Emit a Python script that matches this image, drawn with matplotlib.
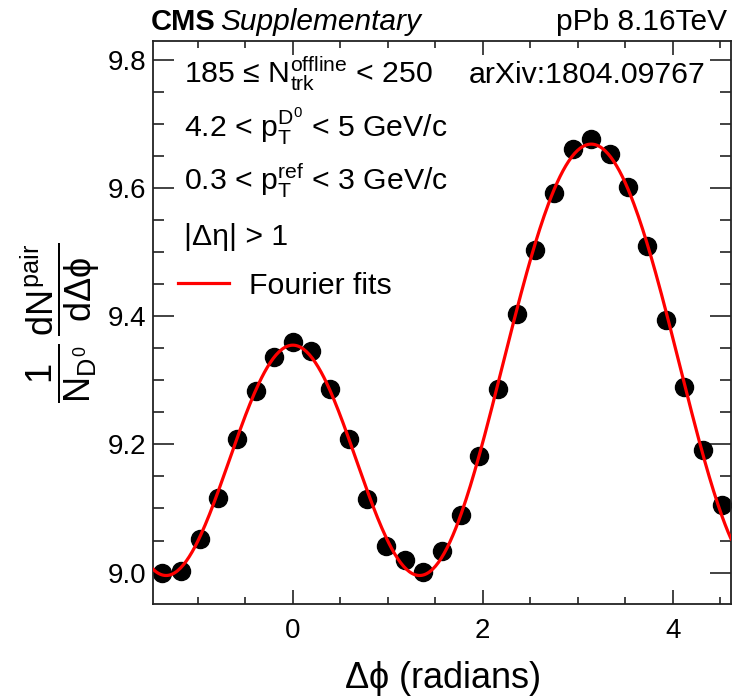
import matplotlib
matplotlib.use('Agg')
import matplotlib.pyplot as plt
from matplotlib.ticker import MultipleLocator, FormatStrFormatter
import numpy as np

#------------------------------------------------------------------------------#

plt.rc('font', family=['Liberation Sans', 'DejaVu Sans'])
plt.rc('mathtext', fontset='custom', rm='Liberation Sans', it='Liberation Sans',
       bf='Liberation Sans:bold', sf='Liberation Sans', fallback='stixsans')

# bin centres in delta phi (radians), pi/16 wide bins
dphi = [-1.3744, -1.1781, -0.9817, -0.7854, -0.5890, -0.3927, -0.1963, 0.0,
        0.1963, 0.3927, 0.5890, 0.7854, 0.9817, 1.1781, 1.3744, 1.5708,
        1.7671, 1.9635, 2.1598, 2.3562, 2.5525, 2.7489, 2.9452, 3.1416,
        3.3379, 3.5343, 3.7306, 3.9270, 4.1233, 4.3197, 4.5160]

# per-trigger associated yield
yields = [9.000, 9.003, 9.052, 9.116, 9.208, 9.283, 9.336, 9.360,
          9.346, 9.286, 9.208, 9.115, 9.042, 9.020, 9.001, 9.034,
          9.090, 9.182, 9.286, 9.403, 9.503, 9.592, 9.661, 9.676,
          9.653, 9.601, 9.510, 9.394, 9.290, 9.191, 9.105]

bin_width = np.pi / 16
n_harm = 3

#------------------------------------------------------------------------------#

def fourier_fit(x, y, n):
    x = np.asarray(x)
    cols = [np.ones_like(x)] + [np.cos(k * x) for k in range(1, n + 1)]
    coef, *_ = np.linalg.lstsq(np.column_stack(cols), np.asarray(y), rcond=None)
    return coef

def fourier_eval(coef, x):
    return coef[0] + sum(c * np.cos((k + 1) * x) for k, c in enumerate(coef[1:]))

#------------------------------------------------------------------------------#

W, H = 737, 698
fig = plt.figure(figsize=(W / 100, H / 100), dpi=100)
ax = fig.add_axes([153 / W, 1 - 604 / H, (731 - 153) / W, (604 - 41) / H])

x_lo = dphi[0] - bin_width / 2
x_hi = dphi[-1] + bin_width / 2

coef = fourier_fit(dphi, yields, n_harm)
xf = np.linspace(x_lo, x_hi, 400)
fit_line, = ax.plot(xf, fourier_eval(coef, xf), color='#ff0000', lw=2.3,
                    label='Fourier fits', zorder=3)
ax.plot(dphi, yields, 'o', color='black', ms=13, zorder=2)

ax.set_xlim(x_lo, x_hi)
ax.set_ylim(8.951, 9.829)

ax.xaxis.set_major_locator(MultipleLocator(2))
ax.xaxis.set_minor_locator(MultipleLocator(0.5))
ax.yaxis.set_major_locator(MultipleLocator(0.2))
ax.yaxis.set_minor_locator(MultipleLocator(0.05))
ax.yaxis.set_major_formatter(FormatStrFormatter('%.1f'))

ax.tick_params(which='both', direction='in', top=True, right=True,
               width=1.2, color='#222222', labelsize=20)
ax.tick_params(axis='x', which='major', length=10, pad=10)
ax.tick_params(axis='x', which='minor', length=5)
ax.tick_params(axis='y', which='major', length=15, pad=5)
ax.tick_params(axis='y', which='minor', length=8)
for sp in ax.spines.values():
    sp.set_linewidth(1.3)
    sp.set_color('#222222')

ax.set_xlabel(r'$\Delta\phi$ (radians)', fontsize=26)
ax.xaxis.set_label_coords(0.5, -0.098)
ax.set_ylabel(r'$\dfrac{1}{N_{D^{0}}}\,\dfrac{dN^{pair}}{d\Delta\phi}$', fontsize=26)
ax.yaxis.set_label_coords(-0.088, 0.5)

def fx(x):
    return x / W

def fy(y):
    return 1 - y / H

fig.text(fx(151), fy(30), 'CMS', fontsize=21, fontweight='bold', va='baseline')
fig.text(fx(220), fy(30), 'Supplementary', fontsize=21.5, style='italic', va='baseline')
fig.text(fx(727), fy(30), 'pPb 8.16TeV', fontsize=21.5, ha='right', va='baseline')

ts = 21.8
fig.text(fx(184), fy(83), r'185 ≤ N$_{\rm trk}^{\rm offline}$ < 250', fontsize=ts, va='baseline')
fig.text(fx(705), fy(83), 'arXiv:1804.09767', fontsize=ts, ha='right', va='baseline')
fig.text(fx(184), fy(137), r'4.2 < p$_{\rm T}^{{\rm D}^{0}}$ < 5 GeV/c', fontsize=ts, va='baseline')
fig.text(fx(184), fy(190), r'0.3 < p$_{\rm T}^{\rm ref}$ < 3 GeV/c', fontsize=ts, va='baseline')
fig.text(fx(184), fy(245), '|Δη| > 1', fontsize=ts, va='baseline')

ax.legend(handles=[fit_line], loc='center left', frameon=False, fontsize=ts,
          bbox_to_anchor=(fx(178), fy(286)), bbox_transform=fig.transFigure,
          borderpad=0, borderaxespad=0, handlelength=1.7, handletextpad=0.65)

fig.savefig('out.png', dpi=100)
